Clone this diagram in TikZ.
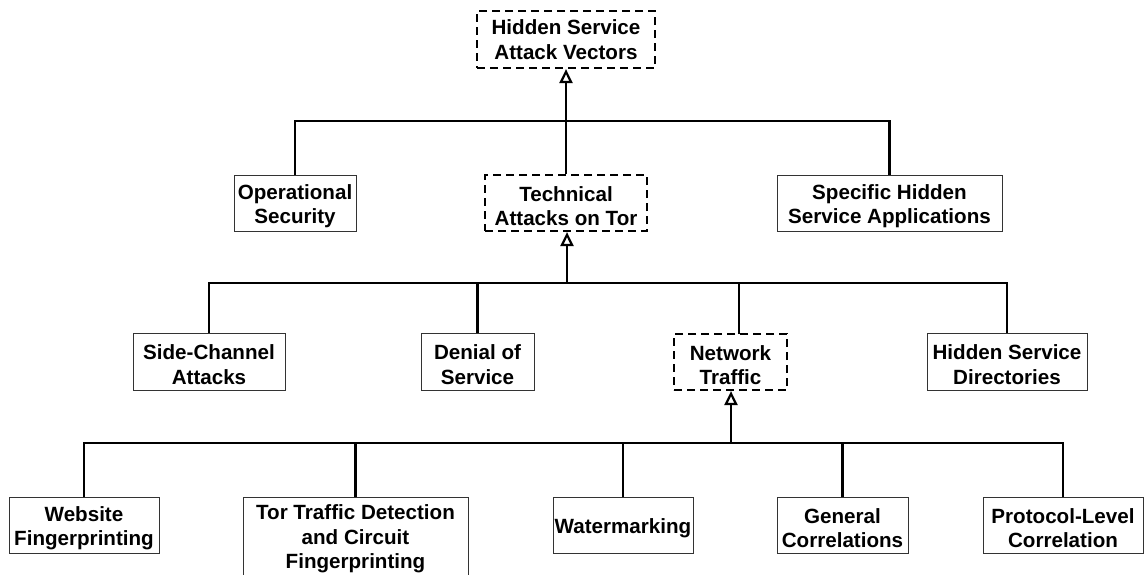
\documentclass[tikz,border=0pt]{standalone}
\usepackage{fontspec}
\setmainfont{Liberation Sans}
\usetikzlibrary{arrows.meta}
\newcommand\tup{\rule{0pt}{21pt}}
\tikzset{
  box/.style={draw=black!80, line width=1pt, inner sep=0pt, align=center,
    font=\bfseries\fontsize{20.6}{24.5}\selectfont, fill=white},
  dbox/.style={box, draw=black, line width=2.2pt, dash pattern=on 8pt off 5pt},
  conn/.style={line width=2.7pt, black},
  up/.style={conn, -{Triangle[open, length=14pt, width=13pt, line width=2.2pt]}}
}
\begin{document}
\begin{tikzpicture}[x=1pt,y=-1pt]
\useasboundingbox (0,0) rectangle (1144,574);
% nodes
\node[dbox, minimum width=178pt, minimum height=57pt] (root) at (566,39.5) {Hidden Service\\Attack Vectors};
\node[box, minimum width=122pt, minimum height=56pt] (ops) at (295,203) {\tup Operational\\Security};
\node[dbox, minimum width=162pt, minimum height=56pt] (tech) at (566,203) {\tup Technical\\Attacks on Tor};
\node[box, minimum width=225pt, minimum height=56pt] (spec) at (889.5,203) {\tup Specific Hidden\\Service Applications};
\node[box, minimum width=152pt, minimum height=57pt] (side) at (209,361.5) {\tup Side-Channel\\Attacks};
\node[box, minimum width=113pt, minimum height=57pt] (dos) at (477.5,361.5) {\tup Denial of\\Service};
\node[dbox, minimum width=113pt, minimum height=56pt] (net) at (730.5,362) {\tup Network\\Traffic};
\node[box, minimum width=160pt, minimum height=57pt] (hsd) at (1007,361.5) {\tup Hidden Service\\Directories};
\node[box, minimum width=150pt, minimum height=56pt] (web) at (84,525) {\tup Website\\Fingerprinting};
\node[box, minimum width=225pt, minimum height=78pt] (tor) at (355.5,536) {\tup Tor Traffic Detection\\and Circuit\\Fingerprinting};
\node[box, minimum width=140pt, minimum height=56pt] (wat) at (623,525) {\tup Watermarking};
\node[box, minimum width=131pt, minimum height=56pt] (gen) at (842.5,525) {\tup General\\Correlations};
\node[box, minimum width=160pt, minimum height=56pt] (proto) at (1063,525) {\tup Protocol-Level\\Correlation};
% bus coordinates
\coordinate (b1) at (566,121);
\coordinate (b2) at (567,283);
\coordinate (b3) at (731,443);
\coordinate (nt) at (739,334);
% level 1
\draw[conn] (ops.north) |- (b1) -| (spec.north);
\draw[up] (tech.north) -- (root.south);
% level 2
\draw[conn] (side.north) |- (b2) -| (hsd.north);
\draw[conn] (dos.north) -- (dos.north |- b2);
\draw[conn] (nt) -- (nt |- b2);
\draw[up] (b2) -- (b2 |- tech.south);
% level 3
\draw[conn] (web.north) |- (b3) -| (proto.north);
\draw[conn] (tor.north) -- (tor.north |- b3);
\draw[conn] (wat.north) -- (wat.north |- b3);
\draw[conn] (gen.north) -- (gen.north |- b3);
\draw[up] (b3) -- (b3 |- net.south);
\end{tikzpicture}
\end{document}
